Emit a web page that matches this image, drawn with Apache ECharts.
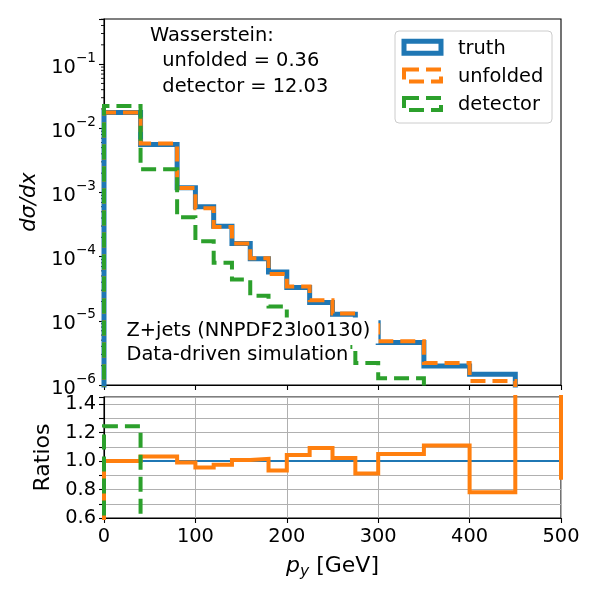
<!DOCTYPE html>
<html>
<head>
<meta charset="utf-8">
<script src="https://cdn.jsdelivr.net/npm/echarts@6/dist/echarts.min.js"></script>
<style>
  html, body { margin: 0; padding: 0; background: #fff; }
  #chart { width: 600px; height: 600px; }
</style>
</head>
<body>
<div id="chart"></div>
<script>
// bin edges in GeV
const binEdges = [0, 40, 80, 100, 120, 140, 160, 180, 200, 225, 250, 275, 300, 350, 400, 450, 500];

// dsigma/dx per bin (0 = empty bin)
const truthValues    = [1.76e-2, 5.6e-3, 1.18e-3, 6.0e-4, 2.97e-4, 1.6e-4, 9.3e-5, 5.77e-5, 3.3e-5, 1.93e-5, 1.27e-5, 9.3e-6, 4.58e-6, 1.98e-6, 1.47e-6, 0];
const unfoldedValues = [1.76e-2, 5.8e-3, 1.17e-3, 5.7e-4, 2.89e-4, 1.61e-4, 9.45e-5, 5.39e-5, 3.44e-5, 2.1e-5, 1.3e-5, 8.5e-6, 4.8e-6, 2.2e-6, 1.15e-6, 0];
const detectorValues = [2.23e-2, 2.3e-3, 4.1e-4, 1.74e-4, 8.0e-5, 4.4e-5, 2.45e-5, 1.67e-5, 1.0e-5, 6.0e-6, 3.9e-6, 2.2e-6, 1.27e-6, 0, 0, 0];

// ratio panel (last unfolded bin is off scale, then the closing point at 500)
const ratioUnfolded = [1.0, 1.032, 0.99, 0.955, 0.974, 1.007, 1.016, 0.934, 1.042, 1.092, 1.021, 0.913, 1.049, 1.11, 0.781, 1000];
const ratioUnfoldedEnd = 0.868;
const ratioDetector = [1.244, 0.41, 0.35, 0.29, 0.27, 0.28, 0.27, 0.29, 0.3, 0.31, 0.31, 0.24, 0.28, 0, 0, 0];
const ratioTruth = [1, 1];

const legendNames = ["truth", "unfolded", "detector"];
const wassersteinText = "Wasserstein:\n  unfolded = 0.36\n  detector = 12.03";
const labelLines = ["Z+jets (NNPDF23lo0130)", "Data-driven simulation"];

// minor ticks of the log axis
const minorDecades = [1e-6, 1e-5, 1e-4, 1e-3, 1e-2, 1e-1];
const minorMultipliers = [2, 3, 4, 5, 6, 7, 8, 9];

const blue = "#1f77b4", orange = "#ff7f0e", green = "#2ca02c";
const font = "DejaVu Sans";
const fs = 19.4;   // ticks, legend, texts
const fsName = 22; // axis titles
const dash = [15, 7];

// histogram outline as a polyline: up from floor, across each bin, back down
function stepPoints(edges, values, floor) {
  const pts = [[edges[0], floor]];
  values.forEach((v, i) => {
    const y = v > 0 ? v : floor;
    pts.push([edges[i], y], [edges[i + 1], y]);
  });
  pts.push([edges[edges.length - 1], floor]);
  return pts;
}

function ratioPoints(edges, values) {
  const pts = [[edges[0], 0]];
  values.forEach((v, i) => pts.push([edges[i], v], [edges[i + 1], v]));
  return pts;
}

const minorTicks = [];
minorDecades.forEach(d => minorMultipliers.forEach(m => {
  const v = d * m;
  if (v <= 0.505) minorTicks.push([0, v]);
}));

const unfoldedRatioPts = ratioPoints(binEdges, ratioUnfolded);
unfoldedRatioPts.push([binEdges[binEdges.length - 1], ratioUnfoldedEnd]);

const black = "#000";
const axisLine = { show: true, onZero: false, lineStyle: { color: black, width: 1.1 } };
const tick = { show: true, inside: false, length: 5, lineStyle: { color: black, width: 1.1 } };
const gridLine = { show: true, lineStyle: { color: "#b0b0b0", width: 1 } };

function histSeries(name, values, color, width, type) {
  return {
    name: name, type: "line", xAxisIndex: 0, yAxisIndex: 0,
    data: stepPoints(binEdges, values, 1e-9),
    showSymbol: false, symbol: "none", clip: true, animation: false,
    lineStyle: { color: color, width: width, type: type, cap: "butt", join: "miter" }
  };
}

function ratioSeries(data, color, width, type) {
  return {
    type: "line", xAxisIndex: 1, yAxisIndex: 1, data: data,
    showSymbol: false, symbol: "none", clip: true, animation: false,
    lineStyle: { color: color, width: width, type: type, cap: "butt", join: "miter" }
  };
}

// legend drawn by hand: outlined boxes like matplotlib step patches
const legendColors = [blue, orange, green];
const legendDash = [null, dash, dash];
const legendItems = [{
  type: "rect", z: 100, shape: { x: 395, y: 31, width: 157, height: 92, r: 4 },
  style: { fill: "rgba(255,255,255,0.8)", stroke: "#cccccc", lineWidth: 1 }
}];
legendNames.forEach((n, i) => {
  const cy = 47.3 + i * 28.3;
  legendItems.push({
    type: "rect", z: 101, shape: { x: 404, y: cy - 6, width: 37, height: 12 },
    style: { fill: "none", stroke: legendColors[i], lineWidth: i === 0 ? 5 : 4, lineDash: legendDash[i] }
  });
  legendItems.push({
    type: "text", z: 101, x: 458, y: cy + 1.5,
    style: { text: n, font: fs + "px " + font, fill: black, verticalAlign: "middle" }
  });
});

const textItems = [
  {
    type: "text", z: 100, x: 150, y: 23,
    style: { text: wassersteinText, font: fs + "px " + font, fill: black, lineHeight: 25.5, verticalAlign: "top" }
  },
  {
    type: "text", z: 100, x: 124.5, y: 330.5,
    style: { text: labelLines[0], font: fs + "px " + font, fill: black, verticalAlign: "middle",
             backgroundColor: "#fff", padding: [4, 8, 3, 2] }
  },
  {
    type: "text", z: 100, x: 124.5, y: 355,
    style: { text: labelLines[1], font: fs + "px " + font, fill: black, verticalAlign: "middle",
             backgroundColor: "#fff", padding: [4, 2, 4, 2] }
  }
];

const chart = echarts.init(document.getElementById("chart"), null, { renderer: "canvas" });
chart.setOption({
  animation: false,
  backgroundColor: "#fff",
  textStyle: { fontFamily: font },
  grid: [
    { left: 104, top: 19, width: 457, height: 366, show: true, borderColor: black, borderWidth: 1.1, backgroundColor: "transparent" },
    { left: 104, top: 397, width: 457, height: 121, show: true, borderColor: black, borderWidth: 1.1, backgroundColor: "transparent" }
  ],
  xAxis: [
    {
      type: "value", gridIndex: 0, min: 0, max: 500, interval: 100,
      axisLine: axisLine, axisTick: tick, axisLabel: { show: false }, splitLine: { show: false }
    },
    {
      type: "value", gridIndex: 1, min: 0, max: 500, interval: 100,
      axisLine: axisLine, axisTick: tick, splitLine: gridLine,
      axisLabel: { fontSize: fs, color: black, fontFamily: font, margin: 9 },
      name: "{i|p}{s|y} [GeV]", nameLocation: "middle", nameGap: 34,
      nameTextStyle: {
        fontSize: fsName, color: black, fontFamily: font,
        rich: {
          i: { fontSize: fsName, fontStyle: "italic", fontFamily: font, lineHeight: 28, verticalAlign: "middle" },
          s: { fontSize: 15.5, fontStyle: "italic", fontFamily: font, lineHeight: 15.5, verticalAlign: "bottom" }
        }
      }
    }
  ],
  yAxis: [
    {
      type: "log", logBase: 10, gridIndex: 0, min: 1e-6, max: 0.505, interval: 1,
      axisLine: axisLine, axisTick: tick, splitLine: { show: false },
      axisLabel: {
        color: black, margin: 8, fontFamily: font,
        formatter: v => {
          const e = Math.log10(v);
          if (Math.abs(e - Math.round(e)) > 1e-6) return "";
          const n = Math.round(e);
          return "{b|10}{s|" + (n < 0 ? "\u2212" : "") + Math.abs(n) + "}";
        },
        rich: {
          b: { fontSize: fs, fontFamily: font, color: black, lineHeight: 26, verticalAlign: "bottom" },
          s: { fontSize: 13.6, fontFamily: font, color: black, lineHeight: 13.6, verticalAlign: "top" }
        }
      },
      name: "d\u03c3/dx", nameLocation: "middle", nameGap: 57, nameRotate: 90,
      nameTextStyle: { fontSize: 21, fontStyle: "italic", color: black, fontFamily: font }
    },
    {
      type: "value", gridIndex: 1, min: 0.6, max: 1.45, interval: 0.1,
      axisLine: axisLine, axisTick: tick, splitLine: gridLine,
      axisLabel: {
        fontSize: fs, color: black, fontFamily: font, margin: 8,
        formatter: v => {
          const k = Math.round(v * 10);
          return (k % 2 === 0 && v < 1.44) ? (k / 10).toFixed(1) : "";
        }
      },
      name: "Ratios", nameLocation: "middle", nameGap: 41, nameRotate: 90,
      nameTextStyle: { fontSize: fsName, color: black, fontFamily: font }
    }
  ],
  series: [
    histSeries(legendNames[0], truthValues, blue, 5, "solid"),
    histSeries(legendNames[1], unfoldedValues, orange, 4, dash),
    histSeries(legendNames[2], detectorValues, green, 4, dash),
    {
      type: "custom", xAxisIndex: 0, yAxisIndex: 0, data: minorTicks, silent: true, clip: false,
      renderItem: (params, api) => {
        const p = api.coord([api.value(0), api.value(1)]);
        return {
          type: "line", shape: { x1: p[0] - 3, y1: p[1], x2: p[0], y2: p[1] },
          style: { stroke: black, lineWidth: 0.9 }
        };
      }
    },
    ratioSeries([[binEdges[0], ratioTruth[0]], [binEdges[binEdges.length - 1], ratioTruth[1]]], blue, 2, "solid"),
    ratioSeries(unfoldedRatioPts, orange, 4, "solid"),
    ratioSeries(ratioPoints(binEdges, ratioDetector), green, 4, dash)
  ],
  graphic: textItems.concat(legendItems)
});
</script>
</body>
</html>
